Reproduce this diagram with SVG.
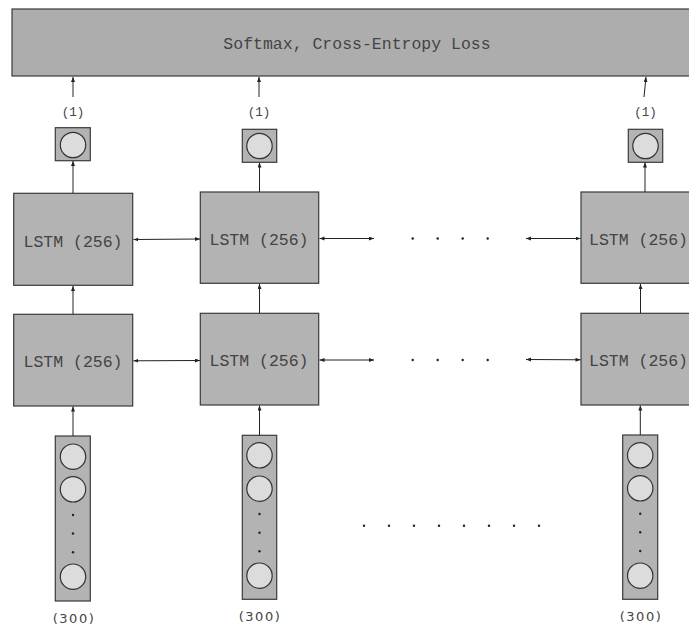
<svg xmlns="http://www.w3.org/2000/svg" width="689" height="628" viewBox="0 0 689 628">
<style>
.box{fill:#b3b3b3;stroke:#3a3a3a;stroke-width:1.2}
.top{fill:#adadad;stroke:#3a3a3a;stroke-width:1.2}
.unit{fill:#dcdcdc;stroke:#333;stroke-width:1.2}
.t{font-family:"Liberation Mono","Courier New",monospace;fill:#444;text-anchor:middle;dominant-baseline:central}
.lab{font-size:16.5px}
.sm{font-size:12.5px}
.md{font-family:"DejaVu Sans","Liberation Sans",sans-serif;font-size:13px;letter-spacing:1.5px}
.c line{stroke:#222;stroke-width:1;marker-end:url(#ah)}
.c .bi{marker-start:url(#ah)}
.dot{fill:#222}
</style>
<defs>
<marker id="ah" markerUnits="userSpaceOnUse" markerWidth="6" markerHeight="6" refX="5" refY="2" orient="auto-start-reverse"><path d="M0,0 L5,2 L0,4 z" fill="#222"/></marker>
</defs>
<rect width="689" height="628" fill="#fff"/>
<g id="loss"><rect class="top" x="12" y="9" width="690" height="67"/><text class="t lab" x="357" y="44">Softmax, Cross-Entropy Loss</text></g>
<g id="out1"><text class="t sm" x="73" y="113">(1)</text><rect class="box" x="55.3" y="127.7" width="35" height="33"/><circle class="unit" cx="73" cy="145" r="12.7"/></g>
<g id="out2"><text class="t sm" x="259" y="113">(1)</text><rect class="box" x="242.3" y="129.3" width="34.4" height="33"/><circle class="unit" cx="259.5" cy="146" r="12.7"/></g>
<g id="out3"><text class="t sm" x="645.5" y="113">(1)</text><rect class="box" x="628.3" y="129.3" width="34.4" height="33"/><circle class="unit" cx="645.5" cy="146" r="12.7"/></g>
<g id="lstm1a"><rect class="box" x="13.7" y="193.3" width="119" height="92"/><text class="t lab" x="73" y="242">LSTM (256)</text></g>
<g id="lstm2a"><rect class="box" x="200.3" y="192" width="118.4" height="91.3"/><text class="t lab" x="259" y="240">LSTM (256)</text></g>
<g id="lstm3a"><rect class="box" x="581" y="192" width="120" height="91.3"/><text class="t lab" x="638.5" y="240">LSTM (256)</text></g>
<g id="lstm1b"><rect class="box" x="13.7" y="314.3" width="119" height="91.7"/><text class="t lab" x="73" y="362.5">LSTM (256)</text></g>
<g id="lstm2b"><rect class="box" x="200.3" y="313.3" width="118.4" height="91.7"/><text class="t lab" x="259" y="361">LSTM (256)</text></g>
<g id="lstm3b"><rect class="box" x="581" y="313.3" width="120" height="91.7"/><text class="t lab" x="638.5" y="361">LSTM (256)</text></g>
<g id="in1"><rect class="box" x="55.3" y="436" width="35" height="165"/><circle class="unit" cx="73" cy="456.7" r="12.7"/><circle class="unit" cx="73" cy="489.3" r="12.7"/><circle class="unit" cx="73" cy="576.7" r="12.7"/><circle class="dot" cx="73" cy="515" r="1.2"/><circle class="dot" cx="73" cy="533.5" r="1.2"/><circle class="dot" cx="73" cy="552.3" r="1.2"/><text class="t md" x="74" y="618">(300)</text></g>
<g id="in2"><rect class="box" x="242.3" y="435.3" width="34.4" height="164"/><circle class="unit" cx="259.5" cy="455.3" r="12.7"/><circle class="unit" cx="259.5" cy="488.7" r="12.7"/><circle class="unit" cx="259.5" cy="575.7" r="12.7"/><circle class="dot" cx="259.5" cy="514" r="1.2"/><circle class="dot" cx="259.5" cy="532.7" r="1.2"/><circle class="dot" cx="259.5" cy="551.3" r="1.2"/><text class="t md" x="260" y="616.5">(300)</text></g>
<g id="in3"><rect class="box" x="622.7" y="435" width="35" height="164.3"/><circle class="unit" cx="640.2" cy="455.3" r="12.7"/><circle class="unit" cx="640.2" cy="488.3" r="12.7"/><circle class="unit" cx="640.2" cy="575.7" r="12.7"/><circle class="dot" cx="640.2" cy="513.7" r="1.2"/><circle class="dot" cx="640.2" cy="532.3" r="1.2"/><circle class="dot" cx="640.2" cy="551" r="1.2"/><text class="t md" x="641" y="616.5">(300)</text></g>
<g id="ellipsis">
<circle class="dot" cx="412.7" cy="238.5" r="1.2"/><circle class="dot" cx="437.7" cy="238.5" r="1.2"/><circle class="dot" cx="462.7" cy="238.5" r="1.2"/><circle class="dot" cx="487.7" cy="238.5" r="1.2"/>
<circle class="dot" cx="412.7" cy="360" r="1.2"/><circle class="dot" cx="437.7" cy="360" r="1.2"/><circle class="dot" cx="462.7" cy="360" r="1.2"/><circle class="dot" cx="487.7" cy="360" r="1.2"/>
<circle class="dot" cx="364" cy="525.7" r="1.2"/><circle class="dot" cx="389" cy="525.7" r="1.2"/><circle class="dot" cx="414" cy="525.7" r="1.2"/><circle class="dot" cx="439" cy="525.7" r="1.2"/><circle class="dot" cx="464" cy="525.7" r="1.2"/><circle class="dot" cx="489" cy="525.7" r="1.2"/><circle class="dot" cx="514" cy="525.7" r="1.2"/><circle class="dot" cx="539" cy="525.7" r="1.2"/>
</g>
<g id="connectors" class="c">
<line x1="73" y1="97" x2="73" y2="77"/>
<line x1="259" y1="97" x2="259" y2="77"/>
<line x1="644" y1="97" x2="646" y2="77"/>
<line x1="73" y1="193.3" x2="73" y2="161"/>
<line x1="259.5" y1="192" x2="259.5" y2="162.5"/>
<line x1="645" y1="192" x2="645" y2="162.5"/>
<line x1="73" y1="314.3" x2="73" y2="286"/>
<line x1="259.5" y1="313.3" x2="259.5" y2="284"/>
<line x1="640.5" y1="313.3" x2="640.5" y2="284"/>
<line x1="73" y1="436" x2="73" y2="406.5"/>
<line x1="259.5" y1="435.3" x2="259.5" y2="405.5"/>
<line x1="640.3" y1="435" x2="640.3" y2="405.5"/>
<line class="bi" x1="133.5" y1="239.5" x2="200" y2="239"/>
<line class="bi" x1="319.5" y1="238.5" x2="374" y2="238.5"/>
<line class="bi" x1="526" y1="238.5" x2="580.5" y2="238.5"/>
<line class="bi" x1="133.5" y1="360.8" x2="200" y2="360.5"/>
<line class="bi" x1="319.5" y1="360" x2="374" y2="360"/>
<line class="bi" x1="526" y1="359.5" x2="580.5" y2="359.8"/>
</g>
</svg>
